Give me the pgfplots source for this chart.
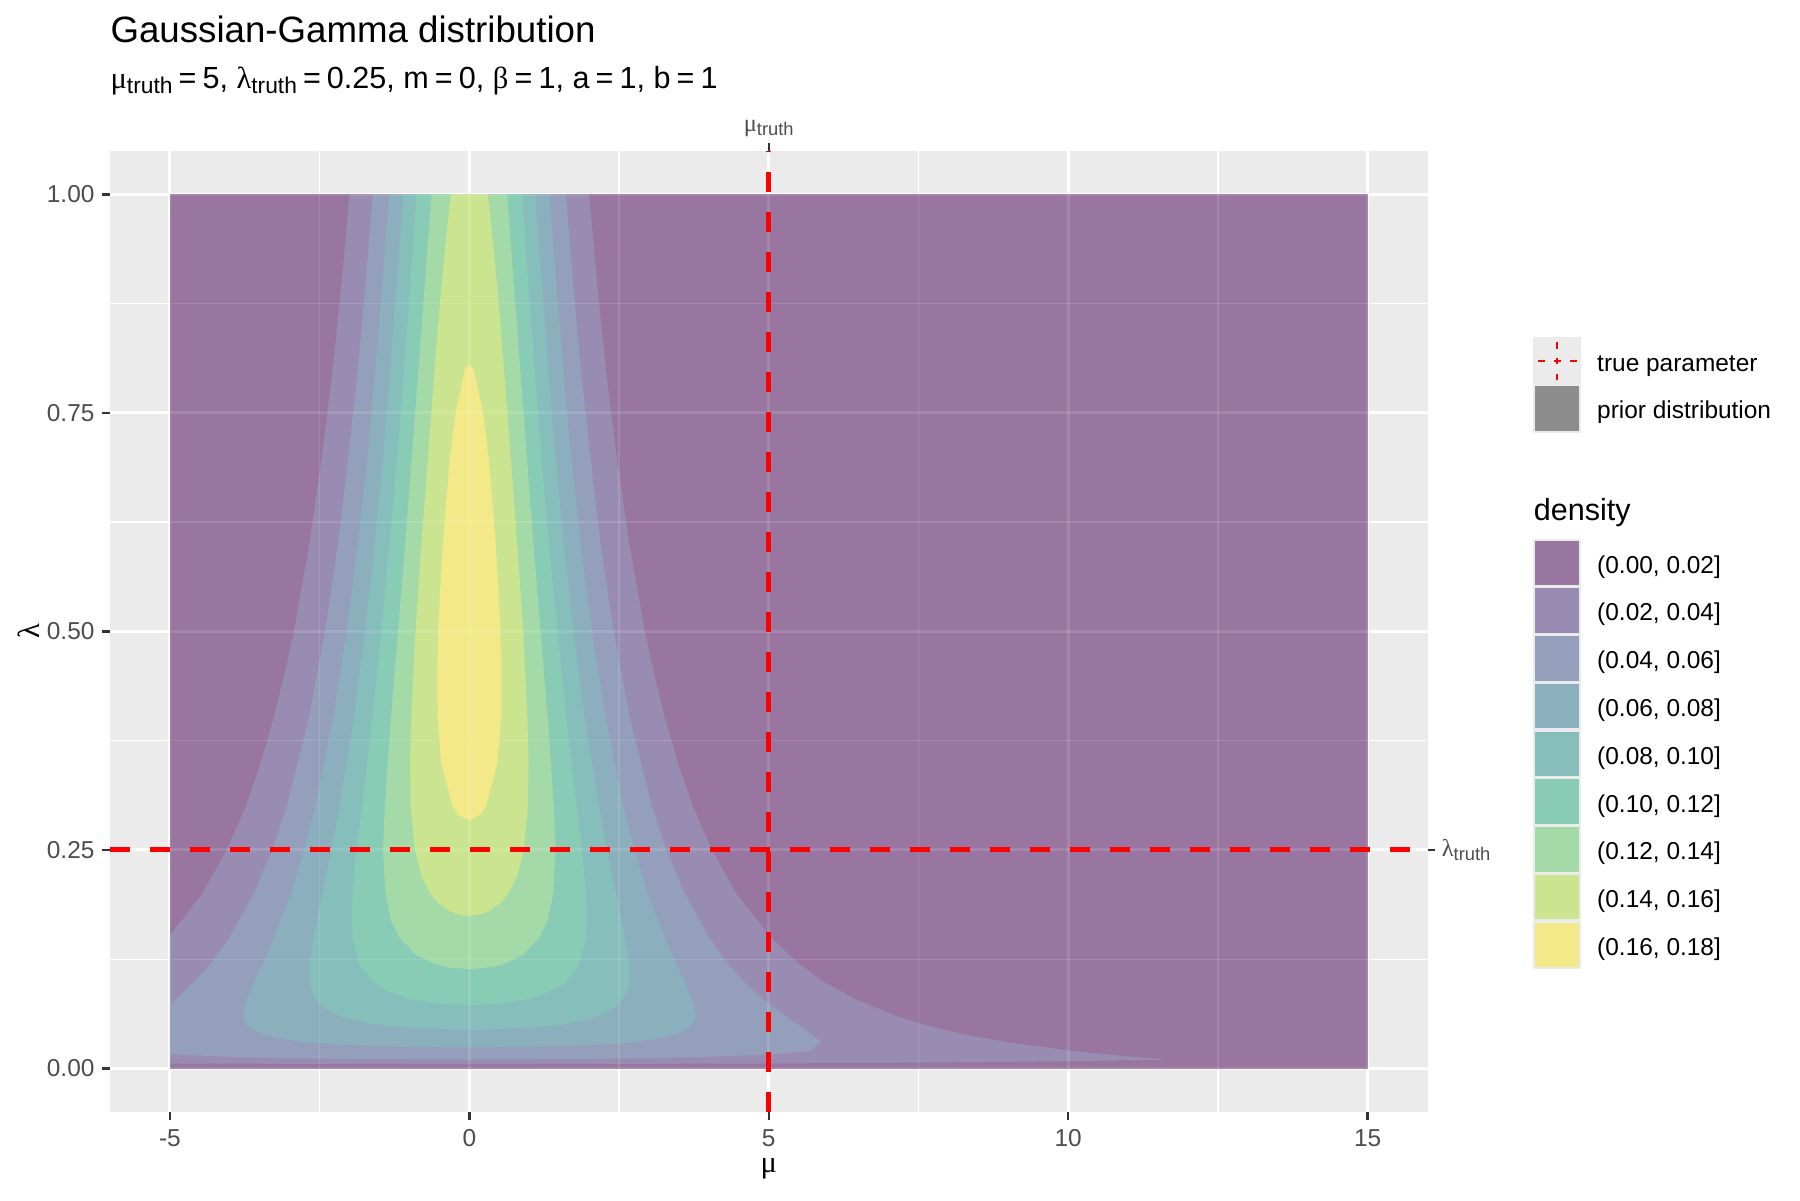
\documentclass[border=0pt]{standalone}
\usepackage{pgfplots}
\pgfplotsset{compat=1.18}
\usepackage{fontspec}
\setmainfont{Liberation Sans}
\newfontfamily\grk{Liberation Serif}
\definecolor{c1}{RGB}{152,118,160}
\definecolor{c2}{RGB}{153,140,179}
\definecolor{c3}{RGB}{147,159,187}
\definecolor{c4}{RGB}{140,175,189}
\definecolor{c5}{RGB}{134,190,188}
\definecolor{c6}{RGB}{137,204,182}
\definecolor{c7}{RGB}{164,218,167}
\definecolor{c8}{RGB}{203,228,143}
\definecolor{c9}{RGB}{244,233,136}
\definecolor{panelbg}{RGB}{235,235,235}
\definecolor{grey30}{RGB}{77,77,77}
\definecolor{grey20}{RGB}{51,51,51}
\definecolor{priorgrey}{RGB}{141,141,141}
\newcommand\gk[1]{{\grk #1}}
\newcommand\fs[1]{\fontsize{#1}{#1}\selectfont}
\newcommand\eq{\hspace{0.2em}=\hspace{0.2em}}
\begin{document}
\begin{tikzpicture}
\useasboundingbox (-39.6pt,-31.6pt) rectangle (608.4pt,400.4pt);
\begin{axis}[
  at={(0,0)}, anchor=south west,
  scale only axis, width=474.3pt, height=346.2pt,
  xmin=-6, xmax=16, ymin=-0.05, ymax=1.05,
  axis background/.style={fill=panelbg},
  axis line style={draw=none},
  xtick={-5,0,5,10,15}, xticklabels={},
  ytick={0,0.25,0.5,0.75,1}, yticklabels={},
  minor xtick={-2.5,2.5,7.5,12.5}, minor ytick={0.125,0.375,0.625,0.875},
  grid=both,
  major grid style={white, line width=1.07pt},
  minor grid style={white, line width=0.53pt},
  tick align=outside, major tick length=2.75pt, minor tick length=0pt,
  tick style={grey20, line width=0.9pt},
  xtick pos=left, ytick pos=left,
]
\addplot[draw=none, fill=c1] coordinates {(-5,0) (15,0) (15,1) (-5,1)} -- cycle;
\addplot[draw=none, fill=c2] coordinates {
(-5,0.00577) (-2.5,0.00526) (0,0.00509) (2.5,0.00526) (5,0.00577) (7,0.00652) (9,0.00766) (10,0.00843) (11,0.00938) (11.65,0.0101)
(10.82,0.015) (10.09,0.02) (8.98,0.03) (8.20,0.04) (7.60,0.05) (7.13,0.06) (6.42,0.08) (5.90,0.1) (5.50,0.12) (5.03,0.15) (4.46,0.2) (4.05,0.25) (3.73,0.3) (3.48,0.35) (3.27,0.4) (3.09,0.45) (2.93,0.5) (2.67,0.6) (2.46,0.7) (2.28,0.8) (2.13,0.9) (2.00,1)
(-2.00,1) (-2.13,0.9) (-2.28,0.8) (-2.46,0.7) (-2.67,0.6) (-2.93,0.5) (-3.09,0.45) (-3.27,0.4) (-3.48,0.35) (-3.73,0.3) (-4.05,0.25) (-4.46,0.2) (-5,0.152)} -- cycle;
\addplot[draw=none, fill=c3] coordinates {
(-5,0.01629) (-4,0.01331) (-3,0.01173) (-2,0.01087) (0,0.0103) (2,0.01087) (3,0.01173) (4,0.01331) (5,0.01629) (5.5,0.01882) (5.705,0.0202) (5.87,0.0303)
(5.70,0.04) (5.49,0.05) (5.27,0.06) (4.89,0.08) (4.58,0.1) (4.32,0.12) (4.00,0.15) (3.60,0.2) (3.29,0.25) (3.05,0.3) (2.68,0.4) (2.41,0.5) (2.19,0.6) (2.02,0.7) (1.86,0.8) (1.73,0.9) (1.61,1)
(-1.61,1) (-1.73,0.9) (-1.86,0.8) (-2.02,0.7) (-2.19,0.6) (-2.41,0.5) (-2.68,0.4) (-3.05,0.3) (-3.29,0.25) (-3.60,0.2) (-4.00,0.15) (-4.32,0.12) (-4.58,0.1) (-4.89,0.08) (-5,0.074)} -- cycle;
\addplot[draw=none, fill=c4] coordinates {
(-2.77,0.0303) (-2.5,0.0289) (-2,0.0269) (-1,0.0246) (0,0.0240) (1,0.0246) (2,0.0269) (2.5,0.0289) (2.77,0.0303) (3.2,0.035)
(3.50,0.04) (3.72,0.05) (3.78,0.06) (3.76,0.07) (3.71,0.08) (3.59,0.1) (3.45,0.12) (3.26,0.15) (2.98,0.2) (2.76,0.25) (2.57,0.3) (2.28,0.4) (2.05,0.5) (1.86,0.6) (1.70,0.7) (1.57,0.8) (1.45,0.9) (1.34,1)
(-1.34,1) (-1.45,0.9) (-1.57,0.8) (-1.70,0.7) (-1.86,0.6) (-2.05,0.5) (-2.28,0.4) (-2.57,0.3) (-2.76,0.25) (-2.98,0.2) (-3.26,0.15) (-3.45,0.12) (-3.59,0.1) (-3.71,0.08) (-3.76,0.07) (-3.78,0.06) (-3.72,0.05) (-3.50,0.04) (-3.2,0.035)} -- cycle;
\addplot[draw=none, fill=c5] coordinates {
(-1.56,0.0505) (-1.5,0.0497) (-1,0.0464) (0,0.0441) (1,0.0464) (1.5,0.0497) (1.56,0.0505)
(1.92,0.055) (2.16,0.06) (2.43,0.07) (2.57,0.08) (2.64,0.09) (2.67,0.1) (2.67,0.12) (2.60,0.15) (2.45,0.2) (2.30,0.25) (2.17,0.3) (1.93,0.4) (1.74,0.5) (1.58,0.6) (1.44,0.7) (1.32,0.8) (1.21,0.9) (1.10,1)
(-1.10,1) (-1.21,0.9) (-1.32,0.8) (-1.44,0.7) (-1.58,0.6) (-1.74,0.5) (-1.93,0.4) (-2.17,0.3) (-2.30,0.25) (-2.45,0.2) (-2.60,0.15) (-2.67,0.12) (-2.67,0.1) (-2.64,0.09) (-2.57,0.08) (-2.43,0.07) (-2.16,0.06) (-1.92,0.055)} -- cycle;
\addplot[draw=none, fill=c6] coordinates {
(0,0.0727) (0.37,0.0735) (0.60,0.075) (1.01,0.08) (1.41,0.09) (1.63,0.1) (1.84,0.12) (1.95,0.15) (1.96,0.175) (1.95,0.2) (1.88,0.25) (1.79,0.3) (1.62,0.4) (1.47,0.5) (1.33,0.6) (1.20,0.7) (1.09,0.8) (0.98,0.9) (0.88,1)
(-0.88,1) (-0.98,0.9) (-1.09,0.8) (-1.20,0.7) (-1.33,0.6) (-1.47,0.5) (-1.62,0.4) (-1.79,0.3) (-1.88,0.25) (-1.95,0.2) (-1.96,0.175) (-1.95,0.15) (-1.84,0.12) (-1.63,0.1) (-1.41,0.09) (-1.01,0.08) (-0.60,0.075) (-0.37,0.0735)} -- cycle;
\addplot[draw=none, fill=c7] coordinates {
(0,0.1135) (0.38,0.116) (0.59,0.12) (0.89,0.13) (1.17,0.15) (1.31,0.17) (1.40,0.2) (1.44,0.25) (1.41,0.3) (1.31,0.4) (1.19,0.5) (1.07,0.6) (0.96,0.7) (0.85,0.8) (0.74,0.9) (0.63,1)
(-0.63,1) (-0.74,0.9) (-0.85,0.8) (-0.96,0.7) (-1.07,0.6) (-1.19,0.5) (-1.31,0.4) (-1.41,0.3) (-1.44,0.25) (-1.40,0.2) (-1.31,0.17) (-1.17,0.15) (-0.89,0.13) (-0.59,0.12) (-0.38,0.116)} -- cycle;
\addplot[draw=none, fill=c8] coordinates {
(0,0.1746) (0.17,0.176) (0.33,0.18) (0.53,0.19) (0.65,0.2) (0.80,0.22) (0.91,0.25) (0.98,0.3) (0.99,0.35) (0.97,0.4) (0.90,0.5) (0.80,0.6) (0.69,0.7) (0.58,0.8) (0.46,0.9) (0.31,1)
(-0.31,1) (-0.46,0.9) (-0.58,0.8) (-0.69,0.7) (-0.80,0.6) (-0.90,0.5) (-0.97,0.4) (-0.99,0.35) (-0.98,0.3) (-0.91,0.25) (-0.80,0.22) (-0.65,0.2) (-0.53,0.19) (-0.33,0.18) (-0.17,0.176)} -- cycle;
\addplot[draw=none, fill=c9] coordinates {
(0,0.2837) (0.18,0.29) (0.28,0.3) (0.47,0.35) (0.53,0.4) (0.535,0.45) (0.52,0.5) (0.485,0.55) (0.44,0.6) (0.385,0.65) (0.32,0.7) (0.23,0.75) (0.07,0.8) (0,0.8053)
(-0.07,0.8) (-0.23,0.75) (-0.32,0.7) (-0.385,0.65) (-0.44,0.6) (-0.485,0.55) (-0.52,0.5) (-0.535,0.45) (-0.53,0.4) (-0.47,0.35) (-0.28,0.3) (-0.18,0.29)} -- cycle;
\end{axis}
\begin{axis}[
  at={(0,0)}, anchor=south west,
  scale only axis, width=474.3pt, height=346.2pt,
  xmin=-6, xmax=16, ymin=-0.05, ymax=1.05,
  axis line style={draw=none},
  xtick={-5,0,5,10,15}, ytick={0,0.25,0.5,0.75,1},
  minor xtick={-2.5,2.5,7.5,12.5}, minor ytick={0.125,0.375,0.625,0.875},
  xticklabels={}, yticklabels={},
  grid=both,
  major grid style={white, opacity=0.12, line width=1.07pt},
  minor grid style={white, opacity=0.12, line width=0.53pt},
  major tick length=0pt, minor tick length=0pt,
  clip=false,
]
\addplot[red, line width=1.8pt, dash pattern=on 7.2pt off 7.2pt] coordinates {(5,-0.05) (5,1.05)};
\addplot[red, line width=1.8pt, dash pattern=on 7.2pt off 7.2pt] coordinates {(-6,0.25) (16,0.25)};
\draw[grey20, line width=0.9pt] (axis cs:5,1.05) -- ([yshift=2.75pt]axis cs:5,1.05);
\draw[grey20, line width=0.9pt] (axis cs:16,0.25) -- ([xshift=2.75pt]axis cs:16,0.25);
\node[anchor=south, inner sep=0pt, text=grey30, font=\fs{8.8}] at ([yshift=4.95pt]axis cs:5,1.05) {\gk{μ}\raisebox{-1.6pt}{\fs{6.6}truth}};
\node[anchor=west, inner sep=0pt, text=grey30, font=\fs{8.8}] at ([xshift=4.95pt]axis cs:16,0.25) {\gk{λ}\raisebox{-1.6pt}{\fs{6.6}truth}};
% tick labels
\node[anchor=north, inner sep=0pt, text=grey30, font=\fs{8.8}] at ([yshift=-6.15pt]axis cs:-5,-0.05) {-5};
\node[anchor=north, inner sep=0pt, text=grey30, font=\fs{8.8}] at ([yshift=-6.15pt]axis cs:0,-0.05) {0};
\node[anchor=north, inner sep=0pt, text=grey30, font=\fs{8.8}] at ([yshift=-6.15pt]axis cs:5,-0.05) {5};
\node[anchor=north, inner sep=0pt, text=grey30, font=\fs{8.8}] at ([yshift=-6.15pt]axis cs:10,-0.05) {10};
\node[anchor=north, inner sep=0pt, text=grey30, font=\fs{8.8}] at ([yshift=-6.15pt]axis cs:15,-0.05) {15};
\node[anchor=east, inner sep=0pt, text=grey30, font=\fs{8.8}] at ([xshift=-5.4pt]axis cs:-6,0) {0.00};
\node[anchor=east, inner sep=0pt, text=grey30, font=\fs{8.8}] at ([xshift=-5.4pt]axis cs:-6,0.25) {0.25};
\node[anchor=east, inner sep=0pt, text=grey30, font=\fs{8.8}] at ([xshift=-5.4pt]axis cs:-6,0.5) {0.50};
\node[anchor=east, inner sep=0pt, text=grey30, font=\fs{8.8}] at ([xshift=-5.4pt]axis cs:-6,0.75) {0.75};
\node[anchor=east, inner sep=0pt, text=grey30, font=\fs{8.8}] at ([xshift=-5.4pt]axis cs:-6,1) {1.00};
\end{axis}
% titles
\node[anchor=base west, inner sep=0pt, font=\fs{13.2}] at (0pt,385.0pt) {Gaussian-Gamma distribution};
\node[anchor=base west, inner sep=0pt, font=\fs{11}] at (0pt,368.6pt) {\gk{μ}\raisebox{-2pt}{\fs{8.2}truth}\eq 5, \gk{λ}\raisebox{-2pt}{\fs{8.2}truth}\eq 0.25, m\eq 0, \gk{β}\eq 1, a\eq 1, b\eq 1};
\node[inner sep=0pt, font=\fs{11}] at (237.15pt,-20.2pt) {\gk{μ}};
\node[inner sep=0pt, font=\fs{11}, rotate=90] at (-29.2pt,173.1pt) {\gk{λ}};
% legend 1
\fill[panelbg] (512.4pt,244.7pt) rectangle (529.6pt,279.1pt);
\draw[red, line width=0.7pt, dash pattern=on 2.4pt off 3.3pt, dash phase=3.9pt] (512.4pt,270.5pt) -- (529.6pt,270.5pt);
\draw[red, line width=0.7pt, dash pattern=on 2.4pt off 3.3pt, dash phase=3.9pt] (521.0pt,279.1pt) -- (521.0pt,261.9pt);
\fill[priorgrey] (513.0pt,245.3pt) rectangle (529.0pt,261.3pt);
\node[anchor=base west, inner sep=0pt, font=\fs{8.8}] at (535.2pt,266.8pt) {true parameter};
\node[anchor=base west, inner sep=0pt, font=\fs{8.8}] at (535.2pt,249.6pt) {prior distribution};
% legend 2
\node[anchor=base west, inner sep=0pt, font=\fs{11}] at (512.4pt,213.2pt) {density};
\fill[panelbg] (512.4pt,51.6pt) rectangle (529.6pt,206.4pt);
\foreach \c/\lab [count=\k from 0] in {c1/{(0.00, 0.02]},c2/{(0.02, 0.04]},c3/{(0.04, 0.06]},c4/{(0.06, 0.08]},c5/{(0.08, 0.10]},c6/{(0.10, 0.12]},c7/{(0.12, 0.14]},c8/{(0.14, 0.16]},c9/{(0.16, 0.18]}}{
  \pgfmathsetmacro\yt{206.4-17.2*\k}
  \fill[\c] (513.0pt,\yt pt-16.6pt) rectangle (529.0pt,\yt pt-0.6pt);
  \node[anchor=base west, inner sep=0pt, font=\fs{8.8}] at (535.2pt,\yt pt-12.35pt) {\lab};
}
\end{tikzpicture}
\end{document}
